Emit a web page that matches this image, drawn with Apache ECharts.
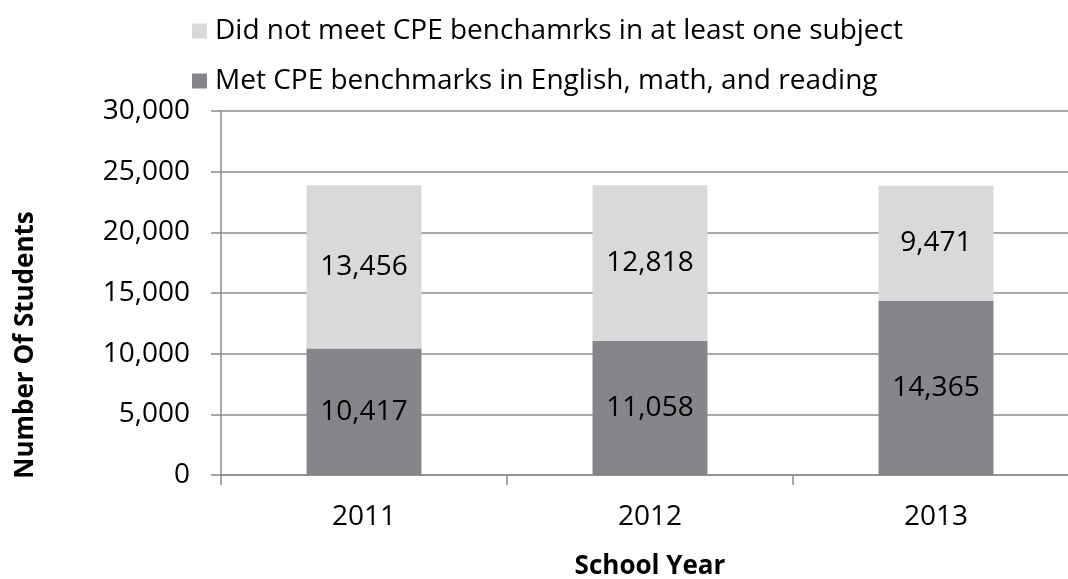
<!DOCTYPE html>
<html>
<head>
<meta charset="utf-8">
<style>html,body{margin:0;padding:0;background:#fff;}#c{width:1068px;height:579px;}</style>
<script src="https://cdn.jsdelivr.net/npm/echarts@6/dist/echarts.min.js"></script>
</head>
<body>
<div id="c"></div>
<script>
const categories = ['2011', '2012', '2013'];
const metValues = [10417, 11058, 14365];
const notMetValues = [13456, 12818, 9471];
const metName = 'Met CPE benchmarks in English, math, and reading';
const notMetName = 'Did not meet CPE benchamrks in at least one subject';
const yTicks = [0, 5000, 10000, 15000, 20000, 25000, 30000];

const FONT = 'Open Sans';
const chart = echarts.init(document.getElementById('c'));
const fmt = v => v.toLocaleString('en-US');
const labelCfg = {
  show: true, position: 'inside', color: '#000', fontSize: 28, fontFamily: FONT,
  formatter: p => fmt(p.value)
};
chart.setOption({
  animation: false,
  textStyle: { fontFamily: FONT },
  legend: {
    orient: 'vertical', left: 187, top: 12, itemGap: 22,
    itemWidth: 15, itemHeight: 15, icon: 'rect',
    data: [notMetName, metName],
    textStyle: { fontSize: 28, color: '#000', fontFamily: FONT, padding: [0, 0, 0, 3] }
  },
  grid: { left: 221, top: 111, width: 858, height: 364, containLabel: false, outerBoundsMode: 'none' },
  xAxis: {
    type: 'category', data: categories,
    name: 'School Year', nameLocation: 'middle', nameGap: 79,
    nameTextStyle: { fontSize: 26, fontWeight: 'bold', color: '#000', fontFamily: FONT },
    axisLine: { lineStyle: { color: '#8c8c8c', width: 1.5 } },
    axisTick: { show: true, length: 10, lineStyle: { color: '#8c8c8c', width: 1.5 } },
    axisLabel: { fontSize: 28, color: '#000', margin: 28, fontFamily: FONT }
  },
  yAxis: {
    type: 'value', min: 0, max: 30000, interval: 5000,
    name: 'Number Of Students', nameLocation: 'middle', nameGap: 182,
    nameTextStyle: { fontSize: 26, fontWeight: 'bold', color: '#000', fontFamily: FONT,
      padding: [0, 104, 0, 0] },
    axisLine: { show: true, lineStyle: { color: '#8c8c8c', width: 1.5 } },
    axisTick: { show: true, length: 10, lineStyle: { color: '#8c8c8c', width: 1.5 } },
    splitLine: { show: true, lineStyle: { color: '#8c8c8c', width: 1.5 } },
    axisLabel: { fontSize: 28, color: '#000', margin: 31, fontFamily: FONT,
      formatter: v => yTicks.includes(v) ? fmt(v) : '' }
  },
  series: [
    { name: metName, type: 'bar', stack: 'total', data: metValues, barWidth: 115,
      itemStyle: { color: '#858689' }, label: labelCfg },
    { name: notMetName, type: 'bar', stack: 'total', data: notMetValues, barWidth: 115,
      itemStyle: { color: '#d9d9db' }, label: labelCfg }
  ]
});
</script>
</body>
</html>
